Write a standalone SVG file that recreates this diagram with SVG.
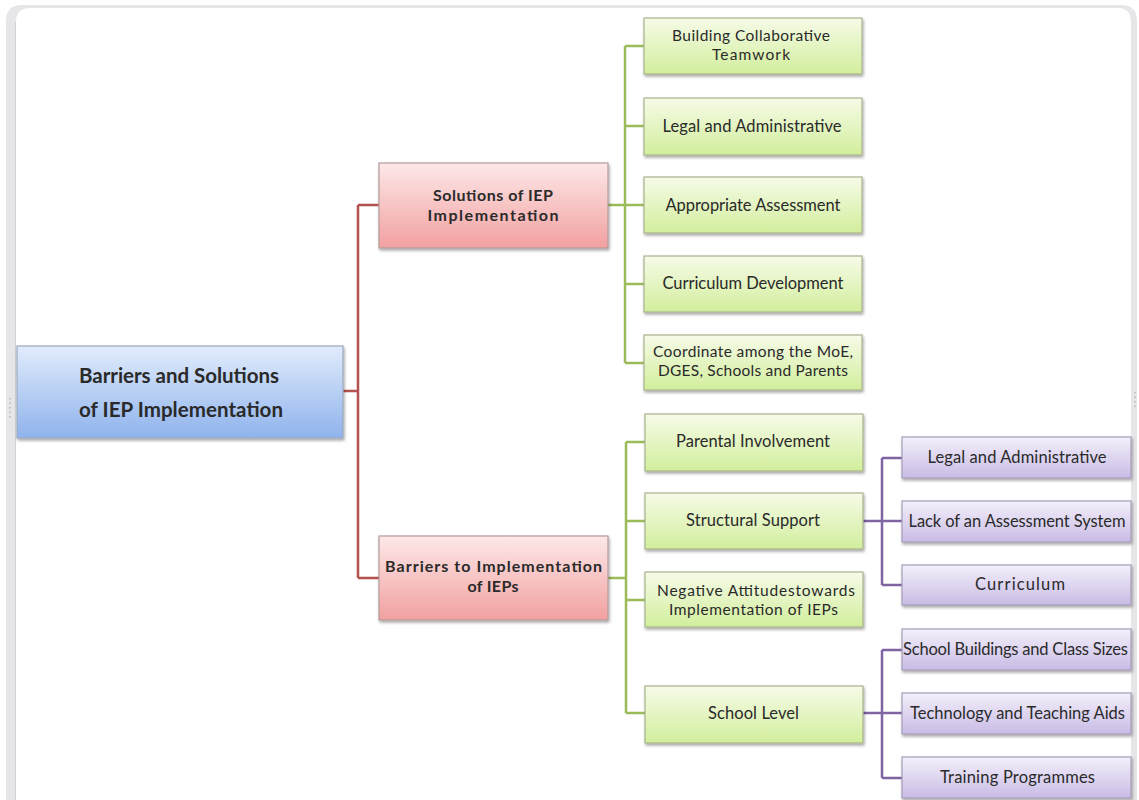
<svg xmlns="http://www.w3.org/2000/svg" width="1139" height="800" viewBox="0 0 1139 800">
  <defs>
    <linearGradient id="gBlue" x1="0" y1="0" x2="0" y2="1">
      <stop offset="0" stop-color="#e1ecfc"/>
      <stop offset="1" stop-color="#8fb3ec"/>
    </linearGradient>
    <linearGradient id="gPink" x1="0" y1="0" x2="0" y2="1">
      <stop offset="0" stop-color="#fde8e8"/>
      <stop offset="1" stop-color="#f2a0a0"/>
    </linearGradient>
    <linearGradient id="gGreen" x1="0" y1="0" x2="0" y2="1">
      <stop offset="0" stop-color="#f6fbe8"/>
      <stop offset="1" stop-color="#d2ee9c"/>
    </linearGradient>
    <linearGradient id="gPurple" x1="0" y1="0" x2="0" y2="1">
      <stop offset="0" stop-color="#f4f0fb"/>
      <stop offset="1" stop-color="#c8bbe5"/>
    </linearGradient>
    <filter id="shadow" x="-5%" y="-10%" width="115%" height="130%">
      <feDropShadow dx="1" dy="2" stdDeviation="1.4" flood-color="#000" flood-opacity="0.35"/>
    </filter>
  </defs>
  <style>
    .box { stroke-width: 1.2; filter: url(#shadow); }
    .root { fill: url(#gBlue); stroke: #9ba8bd; }
    .pink { fill: url(#gPink); stroke: #b39c9c; }
    .green { fill: url(#gGreen); stroke: #a8b38d; }
    .purple { fill: url(#gPurple); stroke: #a59dba; }
    text { font-family: Lato, "Liberation Sans", sans-serif; fill: #2a2a2a; text-anchor: middle; }
    .t { font-size: 16.5px; }
    .t2 { font-size: 15.5px; }
    .tb { font-size: 16px; font-weight: bold; }
    .tr { font-size: 20.5px; font-weight: bold; }
    .wire { fill: none; stroke-width: 2.5; }
    .red { stroke: #b5524f; }
    .lime { stroke: #9bbb59; }
    .violet { stroke: #8064a2; }
  </style>

  <!-- window frame -->
  <rect x="0" y="0" width="1139" height="800" fill="#ffffff"/>
  <path d="M6 820 V21 Q6 5 22 5 H1121 Q1137 5 1137 21 V820 Z" fill="#e6e6e8"/>
  <path d="M16 820 V22 Q16 8 30 8 H1118 Q1131 8 1131 22 V820 Z" fill="#ffffff"/>
  <line x1="15.5" y1="22" x2="15.5" y2="800" stroke="#d2d2d4" stroke-width="1"/>
  <line x1="10" y1="398" x2="10" y2="418" stroke="#b8b8b8" stroke-width="1.5" stroke-dasharray="1.5 3"/>
  <line x1="1135" y1="392" x2="1135" y2="410" stroke="#b8b8b8" stroke-width="1.5" stroke-dasharray="1.5 3"/>

  <!-- connectors -->
  <g id="connectors">
    <path class="wire red" d="M343 391 H358 M358 205 V578 M358 205 H379 M358 578 H379"/>
    <path class="wire lime" d="M608 205 H625 M625 46 V363 M625 46 H644 M625 126 H644 M625 205 H644 M625 284 H644 M625 363 H644"/>
    <path class="wire lime" d="M608 578 H626 M626 442 V713 M626 442 H645 M626 521 H645 M626 600 H645 M626 713 H645"/>
    <path class="wire violet" d="M863 521 H882 M882 458 V585 M882 458 H902 M882 521 H902 M882 585 H902"/>
    <path class="wire violet" d="M863 713 H882 M882 650 V778 M882 650 H902 M882 713 H902 M882 778 H902"/>
  </g>

  <!-- root -->
  <g id="root">
    <rect class="box root" x="17" y="346" width="326" height="92"/>
    <text class="tr" x="179" y="383" textLength="200">Barriers and Solutions</text>
    <text class="tr" x="181" y="417" textLength="204">of IEP Implementation</text>
  </g>

  <!-- second level -->
  <g id="solutions">
    <rect class="box pink" x="379" y="163" width="229" height="85"/>
    <text class="tb" x="493" y="201" textLength="120">Solutions of IEP</text>
    <text class="tb" x="493" y="221" textLength="131">Implementation</text>
  </g>
  <g id="barriers">
    <rect class="box pink" x="379" y="536" width="229" height="84"/>
    <text class="tb" x="493.5" y="572" textLength="217">Barriers to Implementation</text>
    <text class="tb" x="493" y="592" textLength="51">of IEPs</text>
  </g>

  <!-- solutions children -->
  <g id="s-teamwork">
    <rect class="box green" x="644" y="18" width="218" height="56"/>
    <text class="t2" x="751" y="41" textLength="158">Building Collaborative</text>
    <text class="t2" x="751" y="60" textLength="78">Teamwork</text>
  </g>
  <g id="s-legal">
    <rect class="box green" x="644" y="98" width="218" height="57"/>
    <text class="t" x="752" y="132" textLength="179">Legal and Administrative</text>
  </g>
  <g id="s-assessment">
    <rect class="box green" x="644" y="177" width="218" height="56"/>
    <text class="t" x="753" y="211" textLength="175">Appropriate Assessment</text>
  </g>
  <g id="s-curriculum">
    <rect class="box green" x="644" y="256" width="218" height="56"/>
    <text class="t" x="753" y="289" textLength="181">Curriculum Development</text>
  </g>
  <g id="s-coordinate">
    <rect class="box green" x="644" y="335" width="218" height="55"/>
    <text class="t2" x="753" y="357" textLength="200">Coordinate among the MoE,</text>
    <text class="t2" x="753" y="376" textLength="190">DGES, Schools and Parents</text>
  </g>

  <!-- barriers children -->
  <g id="b-parental">
    <rect class="box green" x="645" y="414" width="218" height="57"/>
    <text class="t" x="753" y="447" textLength="154">Parental Involvement</text>
  </g>
  <g id="b-structural">
    <rect class="box green" x="645" y="493" width="218" height="56"/>
    <text class="t" x="753" y="526" textLength="134">Structural Support</text>
  </g>
  <g id="b-attitudes">
    <rect class="box green" x="645" y="572" width="218" height="55"/>
    <text class="t2" x="756" y="596" textLength="198">Negative Attitudestowards</text>
    <text class="t2" x="753.5" y="615" textLength="169">Implementation of IEPs</text>
  </g>
  <g id="b-school">
    <rect class="box green" x="645" y="686" width="218" height="57"/>
    <text class="t" x="753.5" y="719" textLength="91">School Level</text>
  </g>

  <!-- structural support children -->
  <g id="ss-legal">
    <rect class="box purple" x="902" y="437" width="229" height="41"/>
    <text class="t" x="1017" y="463" textLength="179">Legal and Administrative</text>
  </g>
  <g id="ss-assessment">
    <rect class="box purple" x="902" y="501" width="229" height="41"/>
    <text class="t" x="1017" y="527" textLength="217">Lack of an Assessment System</text>
  </g>
  <g id="ss-curriculum">
    <rect class="box purple" x="902" y="565" width="229" height="40"/>
    <text class="t" x="1020" y="590" textLength="90">Curriculum</text>
  </g>

  <!-- school level children -->
  <g id="sl-buildings">
    <rect class="box purple" x="902" y="629" width="229" height="41"/>
    <text class="t" x="1015.5" y="655" textLength="225">School Buildings and Class Sizes</text>
  </g>
  <g id="sl-technology">
    <rect class="box purple" x="902" y="693" width="229" height="41"/>
    <text class="t" x="1017.5" y="719" textLength="215">Technology and Teaching Aids</text>
  </g>
  <g id="sl-training">
    <rect class="box purple" x="902" y="757" width="229" height="41"/>
    <text class="t" x="1017.5" y="783" textLength="155">Training Programmes</text>
  </g>
</svg>
